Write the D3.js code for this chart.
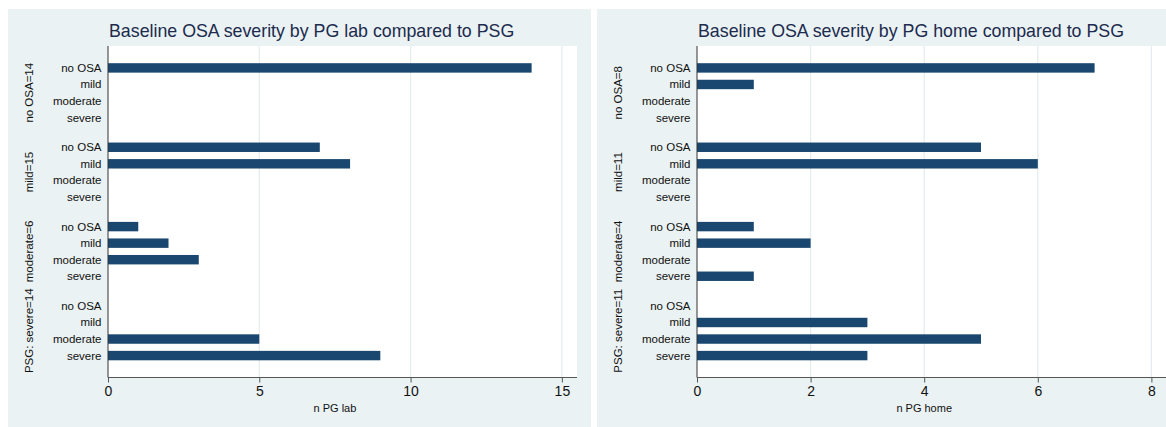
<!DOCTYPE html>
<html>
<head>
<meta charset="utf-8">
<script src="https://cdn.jsdelivr.net/npm/d3@7"></script>
<style>
  body { margin: 0; background: #fff; }
  svg { display: block; font-family: "Liberation Sans", Arial, Helvetica, sans-serif; }
</style>
</head>
<body>
<div id="chart"></div>
<script>
// PG result categories (bars inside each PSG group)
const categories = ["no OSA", "mild", "moderate", "severe"]

// PSG groups, with n in the label
const labGroups = ["no OSA=14", "mild=15", "moderate=6", "PSG: severe=14"]
const homeGroups = ["no OSA=8", "mild=11", "moderate=4", "PSG: severe=11"]

// counts per group, ordered like categories
const labCounts = [
  [14, 0, 0, 0],
  [7, 8, 0, 0],
  [1, 2, 3, 0],
  [0, 0, 5, 9]
]
const homeCounts = [
  [7, 1, 0, 0],
  [5, 6, 0, 0],
  [1, 2, 0, 1],
  [0, 3, 5, 3]
]

const labTicks = [0, 5, 10, 15]
const homeTicks = [0, 2, 4, 6, 8]

const W = 1166, H = 427
const bg = "#eaf2f3"
const barColor = "#1a476f"
const titleColor = "#1c2b4e"

const svg = d3.select("#chart").append("svg")
  .attr("width", W)
  .attr("height", H)

svg.append("rect").attr("width", W).attr("height", H).attr("fill", "#fff")

function drawPanel(p) {
  const { x0, x1, plotLeft, plotRight, xMax, groups, counts, ticks, title, xTitle } = p
  const top = 46, bottom = 377.5

  const g = svg.append("g")

  g.append("rect")
    .attr("x", x0).attr("y", 9)
    .attr("width", x1 - x0).attr("height", H - 9)
    .attr("fill", bg)

  g.append("rect")
    .attr("x", plotLeft).attr("y", top)
    .attr("width", plotRight - plotLeft).attr("height", bottom - top)
    .attr("fill", "#fff")

  const x = d3.scaleLinear().domain([0, xMax]).range([plotLeft, plotRight])

  const yGroup = d3.scaleBand()
    .domain(groups)
    .range([top, bottom])
    .paddingInner(0.166)
    .paddingOuter(0.172)

  const yCat = d3.scaleBand()
    .domain(categories)
    .range([0, yGroup.bandwidth()])
    .paddingInner(0.43)
    .paddingOuter(0.215)

  // grid lines
  g.append("g")
    .selectAll("line")
    .data(ticks.filter(t => t > 0))
    .join("line")
    .attr("x1", d => x(d)).attr("x2", d => x(d))
    .attr("y1", top).attr("y2", bottom)
    .attr("stroke", "#e3ecee")
    .attr("stroke-width", 1.2)

  // bars
  const rows = groups.flatMap((grp, gi) =>
    categories.map((c, ci) => ({ grp, c, v: counts[gi][ci] })))

  g.append("g")
    .selectAll("rect")
    .data(rows.filter(d => d.v > 0))
    .join("rect")
    .attr("x", x(0))
    .attr("y", d => yGroup(d.grp) + yCat(d.c))
    .attr("width", d => x(d.v) - x(0))
    .attr("height", yCat.bandwidth())
    .attr("fill", barColor)

  // category labels
  g.append("g")
    .selectAll("text")
    .data(rows)
    .join("text")
    .attr("x", plotLeft - 6.5)
    .attr("y", d => yGroup(d.grp) + yCat(d.c) + yCat.bandwidth() / 2 + 4)
    .attr("text-anchor", "end")
    .attr("font-size", 11.5)
    .attr("fill", "#111")
    .text(d => d.c)

  // group labels, rotated
  g.append("g")
    .selectAll("text")
    .data(groups)
    .join("text")
    .attr("transform", d => `translate(${x0 + 25},${yGroup(d) + yGroup.bandwidth() / 2}) rotate(-90)`)
    .attr("text-anchor", "middle")
    .attr("font-size", 11.5)
    .attr("fill", "#111")
    .text(d => d)

  // y axis line
  g.append("line")
    .attr("x1", plotLeft).attr("x2", plotLeft)
    .attr("y1", top).attr("y2", bottom)
    .attr("stroke", "#333").attr("stroke-width", 1)

  // x axis
  const ax = g.append("g")
    .attr("transform", `translate(0,${bottom})`)
    .call(d3.axisBottom(x).tickValues(ticks).tickSize(5).tickPadding(4).tickSizeOuter(0))
  ax.select(".domain").attr("stroke", "#555").attr("d", `M${plotLeft},0H${plotRight}`)
  ax.selectAll(".tick line").attr("stroke", "#555")
  ax.selectAll(".tick text")
    .attr("font-family", "Liberation Sans, Arial, sans-serif")
    .attr("font-size", 14)
    .attr("fill", "#111")

  g.append("text")
    .attr("x", (plotLeft + Math.min(plotRight, x(ticks[ticks.length - 1]))) / 2)
    .attr("y", 412)
    .attr("text-anchor", "middle")
    .attr("font-size", 11)
    .attr("fill", "#111")
    .text(xTitle)

  g.append("text")
    .attr("x", plotLeft + 1)
    .attr("y", 37)
    .attr("font-size", 17.8)
    .attr("fill", titleColor)
    .text(title)
}

drawPanel({
  x0: 8, x1: 591, plotLeft: 108, plotRight: 577, xMax: 15.5,
  groups: labGroups, counts: labCounts, ticks: labTicks,
  title: "Baseline OSA severity by PG lab compared to PSG", xTitle: "n PG lab"
})

drawPanel({
  x0: 597, x1: W, plotLeft: 697, plotRight: W, xMax: (W - 697) / 56.8,
  groups: homeGroups, counts: homeCounts, ticks: homeTicks,
  title: "Baseline OSA severity by PG home compared to PSG", xTitle: "n PG home"
})
</script>
</body>
</html>
